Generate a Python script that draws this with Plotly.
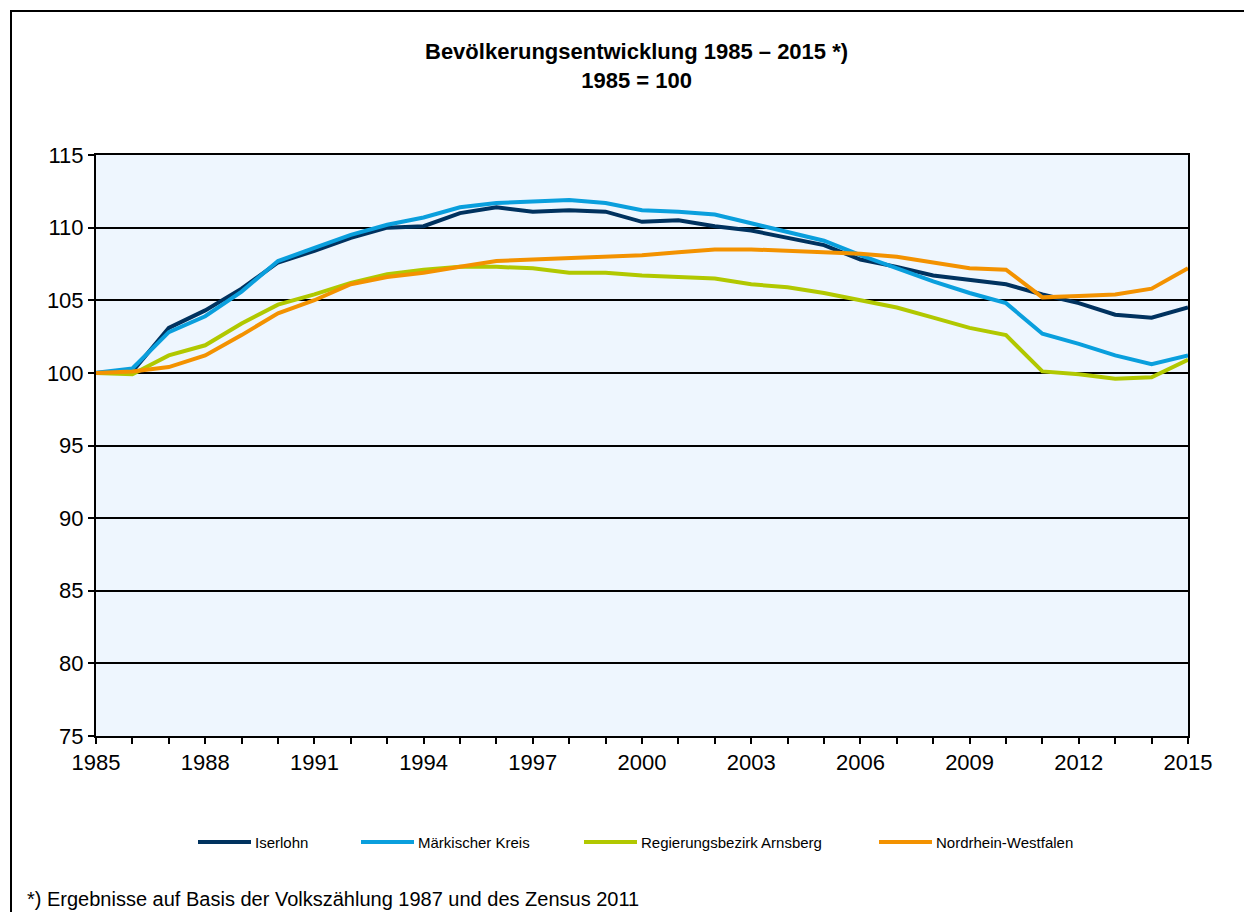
import plotly.graph_objects as go

years = list(range(1985, 2016))

iserlohn = [100.0, 100.1, 103.1, 104.3, 105.8, 107.6, 108.4, 109.3, 110.0, 110.1,
            111.0, 111.4, 111.1, 111.2, 111.1, 110.4, 110.5, 110.1, 109.8, 109.3,
            108.8, 107.8, 107.3, 106.7, 106.4, 106.1, 105.4, 104.8, 104.0, 103.8,
            104.5]
maerkischer_kreis = [100.0, 100.3, 102.8, 103.9, 105.6, 107.7, 108.6, 109.5, 110.2, 110.7,
                     111.4, 111.7, 111.8, 111.9, 111.7, 111.2, 111.1, 110.9, 110.3, 109.7,
                     109.1, 108.1, 107.2, 106.3, 105.5, 104.8, 102.7, 102.0, 101.2, 100.6,
                     101.2]
arnsberg = [100.0, 99.9, 101.2, 101.9, 103.4, 104.7, 105.4, 106.2, 106.8, 107.1,
            107.3, 107.3, 107.2, 106.9, 106.9, 106.7, 106.6, 106.5, 106.1, 105.9,
            105.5, 105.0, 104.5, 103.8, 103.1, 102.6, 100.1, 99.9, 99.6, 99.7,
            100.9]
nrw = [100.0, 100.1, 100.4, 101.2, 102.6, 104.1, 105.0, 106.1, 106.6, 106.9,
       107.3, 107.7, 107.8, 107.9, 108.0, 108.1, 108.3, 108.5, 108.5, 108.4,
       108.3, 108.2, 108.0, 107.6, 107.2, 107.1, 105.2, 105.3, 105.4, 105.8,
       107.2]

series_names = ["Iserlohn", "Märkischer Kreis", "Regierungsbezirk Arnsberg", "Nordrhein-Westfalen"]
series_values = [iserlohn, maerkischer_kreis, arnsberg, nrw]
series_colors = ["#00325F", "#0A9FDD", "#B1C800", "#F39200"]

x_tick_vals = years
x_tick_text = [str(y) if (y - 1985) % 3 == 0 else "" for y in years]

title_text = "<b>Bevölkerungsentwicklung 1985 – 2015 *)<br>1985 = 100</b>"
footnote = "*) Ergebnisse auf Basis der Volkszählung 1987 und des Zensus 2011"

fig = go.Figure()
for name, vals, col in zip(series_names, series_values, series_colors):
    fig.add_trace(go.Scatter(x=years, y=vals, mode="lines", name=name, showlegend=False,
                             line=dict(color=col, width=4)))

# the page has an 8px body margin: work in reference-image pixels, shift by 8
OFF = 8
W, H = 1252 - OFF, 912 - OFF
L = 96 - OFF
T = 155 - OFF
R = W - (1188 - OFF)
B = H - (736 - OFF)
pw, ph = W - L - R, H - T - B

def px(xp):
    return (xp - OFF - L) / pw

def py(yp):
    return (H - B - (yp - OFF)) / ph

# legend row (swatch start x positions in page pixels)
legend_y = 842
legend_swatch_x = [198, 361, 584, 879]
swatch_len = 53

annotations = [
    dict(text=title_text, xref="paper", yref="paper", x=px(636), y=py(66), xanchor="center",
         yanchor="middle", showarrow=False, font=dict(size=22)),
    dict(text=footnote, xref="paper", yref="paper", x=px(25), y=py(899), xanchor="left",
         yanchor="middle", showarrow=False, font=dict(size=20)),
]
shapes = [
    dict(type="rect", xref="paper", yref="paper", x0=px(11), x1=px(1249), y0=py(940), y1=py(11),
         line=dict(color="black", width=2), fillcolor="rgba(0,0,0,0)", layer="below"),
]
for name, col, sx in zip(series_names, series_colors, legend_swatch_x):
    shapes.append(dict(type="line", xref="paper", yref="paper",
                       x0=px(sx), x1=px(sx + swatch_len), y0=py(legend_y), y1=py(legend_y),
                       line=dict(color=col, width=4)))
    annotations.append(dict(text=name, xref="paper", yref="paper", x=px(sx + swatch_len + 2),
                            y=py(legend_y), xanchor="left", yanchor="middle", showarrow=False,
                            font=dict(size=15)))

fig.update_layout(
    width=W, height=H,
    margin=dict(l=L, r=R, t=T, b=B),
    paper_bgcolor="white",
    plot_bgcolor="#EEF6FE",
    font=dict(family="Arial, Liberation Sans, sans-serif", color="black"),
    showlegend=False,
    xaxis=dict(range=[1985, 2015], tickvals=x_tick_vals, ticktext=x_tick_text,
               ticks="outside", ticklen=6, tickwidth=2, tickcolor="black",
               showline=True, linecolor="black", linewidth=2, mirror=True,
               showgrid=False, zeroline=False, tickfont=dict(size=22)),
    yaxis=dict(range=[75, 115], dtick=5, tick0=75,
               ticks="outside", ticklen=6, tickwidth=2, tickcolor="black",
               showline=True, linecolor="black", linewidth=2, mirror=True,
               showgrid=True, gridcolor="black", gridwidth=2, zeroline=False,
               tickfont=dict(size=22)),
    annotations=annotations,
    shapes=shapes,
)

fig.write_html("out.html")
